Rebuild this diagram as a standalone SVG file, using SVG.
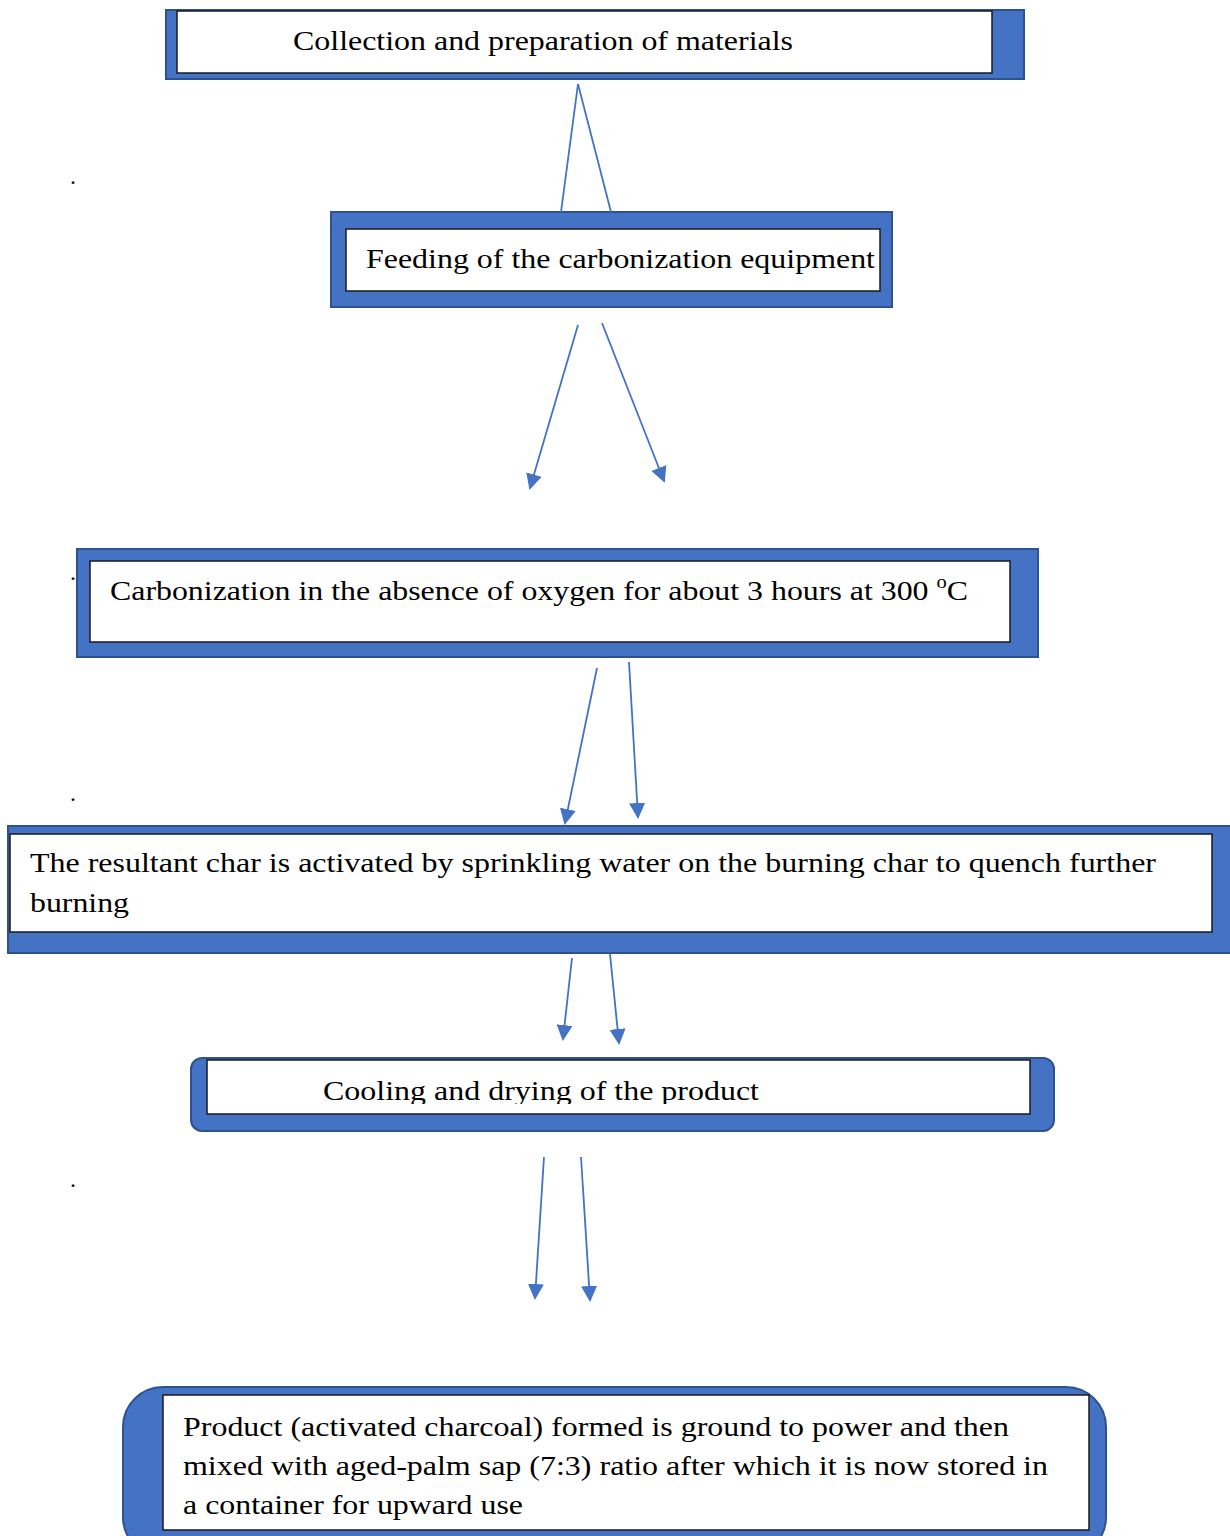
<svg xmlns="http://www.w3.org/2000/svg" width="1230" height="1536" viewBox="0 0 1230 1536">
<defs>
<style>
.outer{fill:#4472C4;stroke:#2F528F;stroke-width:2}
.inner{fill:#ffffff;stroke:#1a1a1a;stroke-width:1.5}
.t{font-size:28px;fill:#000}
.c{stroke:#4472C4;stroke-width:1.8;fill:none}
.dot{font-size:24px;fill:#000}
</style>
<marker id="ah2" markerWidth="16" markerHeight="16" refX="14" refY="8" orient="auto" markerUnits="userSpaceOnUse" viewBox="0 0 16 16">
<path d="M0,0 L16,8 L0,16 Z" fill="#4472C4"/>
</marker>
<clipPath id="clip5"><rect x="207" y="1060" width="823" height="44"/></clipPath>
</defs>

<g id="dots" font-family="Times New Roman, Liberation Serif, DejaVu Serif, serif">
<text class="dot" x="70" y="184">.</text>
<text class="dot" x="70" y="580">.</text>
<text class="dot" x="70" y="801">.</text>
<text class="dot" x="70" y="1187">.</text>
</g>

<g id="node1" font-family="Times New Roman, Liberation Serif, DejaVu Serif, serif">
<rect class="outer" x="166" y="10" width="858" height="69"/>
<rect class="inner" x="177" y="11" width="815" height="62"/>
<text class="t" x="293" y="50" textLength="500" lengthAdjust="spacingAndGlyphs">Collection and preparation of materials</text>
</g>

<g id="node2" font-family="Times New Roman, Liberation Serif, DejaVu Serif, serif">
<rect class="outer" x="331" y="212" width="561" height="95"/>
<rect class="inner" x="346" y="229" width="534" height="62"/>
<text class="t" x="366" y="268" textLength="509" lengthAdjust="spacingAndGlyphs">Feeding of the carbonization equipment</text>
</g>

<g id="node3" font-family="Times New Roman, Liberation Serif, DejaVu Serif, serif">
<rect class="outer" x="77" y="549" width="961" height="108"/>
<rect class="inner" x="90" y="561" width="920" height="81"/>
<text class="t" x="110" y="600" textLength="858" lengthAdjust="spacingAndGlyphs">Carbonization in the absence of oxygen for about 3 hours at 300 <tspan font-size="18" dy="-12">o</tspan><tspan dy="12">C</tspan></text>
</g>

<g id="node4" font-family="Times New Roman, Liberation Serif, DejaVu Serif, serif">
<rect class="outer" x="8" y="826" width="1224" height="127"/>
<rect class="inner" x="10" y="834" width="1202" height="98"/>
<text class="t" x="30" y="872" textLength="1126" lengthAdjust="spacingAndGlyphs">The resultant char is activated by sprinkling water on the burning char to quench further</text>
<text class="t" x="30" y="912" textLength="99" lengthAdjust="spacingAndGlyphs">burning</text>
</g>

<g id="node5" font-family="Times New Roman, Liberation Serif, DejaVu Serif, serif">
<rect class="outer" x="191" y="1058" width="863" height="73" rx="11"/>
<rect class="inner" x="207" y="1060" width="823" height="54"/>
<text class="t" x="323" y="1100" clip-path="url(#clip5)" textLength="436" lengthAdjust="spacingAndGlyphs">Cooling and drying of the product</text>
</g>

<g id="node6" font-family="Times New Roman, Liberation Serif, DejaVu Serif, serif">
<rect class="outer" x="123" y="1387" width="983" height="170" rx="40"/>
<rect class="inner" x="163" y="1395" width="926" height="135"/>
<text class="t" x="183" y="1436" textLength="826" lengthAdjust="spacingAndGlyphs">Product (activated charcoal) formed is ground to power and then</text>
<text class="t" x="183" y="1475" textLength="865" lengthAdjust="spacingAndGlyphs">mixed with aged-palm sap (7:3) ratio after which it is now stored in</text>
<text class="t" x="183" y="1514" textLength="340" lengthAdjust="spacingAndGlyphs">a container for upward use</text>
</g>

<g id="connectors">
<line class="c" x1="578" y1="84" x2="561" y2="212"/>
<line class="c" x1="578" y1="84" x2="611" y2="212"/>
<line class="c" x1="578" y1="325" x2="530" y2="488" marker-end="url(#ah2)"/>
<line class="c" x1="602" y1="323" x2="664" y2="481" marker-end="url(#ah2)"/>
<line class="c" x1="597" y1="668" x2="565" y2="823" marker-end="url(#ah2)"/>
<line class="c" x1="629" y1="662" x2="638" y2="817" marker-end="url(#ah2)"/>
<line class="c" x1="572" y1="958" x2="563" y2="1039" marker-end="url(#ah2)"/>
<line class="c" x1="610" y1="954" x2="619" y2="1043" marker-end="url(#ah2)"/>
<line class="c" x1="544" y1="1157" x2="535" y2="1298" marker-end="url(#ah2)"/>
<line class="c" x1="581" y1="1157" x2="590" y2="1300" marker-end="url(#ah2)"/>
</g>
</svg>
